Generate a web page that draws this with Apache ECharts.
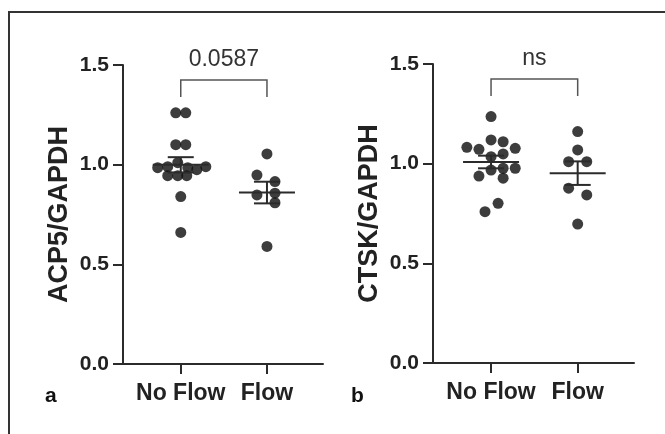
<!DOCTYPE html>
<html><head><meta charset="utf-8">
<script src="https://cdn.jsdelivr.net/npm/echarts@6/dist/echarts.min.js"></script>
<style>html,body{margin:0;padding:0;background:#fff}#c{width:665px;height:434px}</style>
</head><body><div id="c"></div>
<script>
// ---- data ----
const categories = ['No Flow', 'Flow'];
const yTicks = [0, 0.5, 1.0, 1.5];
// Panel a: ACP5/GAPDH
const acp5NoFlow = [1.26, 1.26, 1.10, 1.10, 0.985, 0.99, 1.01, 0.985, 0.975, 0.99, 0.945, 0.945, 0.945, 0.84, 0.66];
const acp5NoFlowJitter = [-5, 5, -5, 5, -23, -13, -3, 7, 16, 25, -13, -3, 6, 0, 0];
const acp5Flow = [1.054, 0.948, 0.915, 0.848, 0.857, 0.809, 0.59];
const acp5FlowJitter = [0, -10, 8, -10, 8, 8, 0];
// Panel b: CTSK/GAPDH
const ctskNoFlow = [1.236, 1.119, 1.110, 1.082, 1.072, 1.077, 1.035, 1.049, 0.977, 0.977, 0.968, 0.938, 0.927, 0.801, 0.759];
const ctskNoFlowJitter = [0, 0, 12, -24, -12, 24, 0, 12, 12, 24, 0, -12, 12, 7, -6];
const ctskFlow = [1.161, 1.069, 1.010, 1.010, 0.877, 0.843, 0.697];
const ctskFlowJitter = [0, 0, -9, 9, -9, 9, 0];
// significance annotations
const sigLabels = ['0.0587', 'ns'];
const bracketTop = 1.425;
const bracketLeg = 1.34;

// ---- helpers ----
const PX_PER_CAT = 86; // jitter values are in pixels of one category step
function pts(vals, jit, ci) {
  return vals.map((v, i) => [ci + jit[i] / PX_PER_CAT, v]);
}
function meanSem(vals) {
  const n = vals.length;
  const m = vals.reduce((a, b) => a + b, 0) / n;
  const sd = Math.sqrt(vals.reduce((a, b) => a + (b - m) * (b - m), 0) / (n - 1));
  return [m, sd / Math.sqrt(n)];
}
const INK = '#2b2b2b';
const FONT = 'Liberation Sans, Arial, sans-serif';

function errSeries(gi, groups) {
  return {
    type: 'custom', xAxisIndex: gi, yAxisIndex: gi, z: 5,
    data: groups.map((vals, i) => { const ms = meanSem(vals); return [i + 1, ms[0], ms[1]]; }),
    renderItem: function (params, api) {
      const x = api.value(0), m = api.value(1), s = api.value(2);
      const c = api.coord([x, m]), hi = api.coord([x, m + s]), lo = api.coord([x, m - s]);
      const st = { stroke: INK, lineWidth: 2 };
      return { type: 'group', children: [
        { type: 'line', shape: { x1: c[0] - 28, y1: c[1], x2: c[0] + 28, y2: c[1] }, style: st },
        { type: 'line', shape: { x1: c[0], y1: hi[1], x2: c[0], y2: lo[1] }, style: st },
        { type: 'line', shape: { x1: c[0] - 13, y1: hi[1], x2: c[0] + 13, y2: hi[1] }, style: st },
        { type: 'line', shape: { x1: c[0] - 13, y1: lo[1], x2: c[0] + 13, y2: lo[1] }, style: st }
      ]};
    }
  };
}
function bracketSeries(gi, label) {
  return {
    type: 'custom', xAxisIndex: gi, yAxisIndex: gi, z: 5,
    data: [[1, 2, bracketTop, bracketLeg]],
    renderItem: function (params, api) {
      const a = api.coord([api.value(0), api.value(2)]);
      const b = api.coord([api.value(1), api.value(2)]);
      const l = api.coord([api.value(0), api.value(3)]);
      const st = { stroke: '#555', lineWidth: 1.5, fill: null };
      return { type: 'group', children: [
        { type: 'polyline', shape: { points: [[a[0], l[1]], a, b, [b[0], l[1]]] }, style: st },
        { type: 'text', x: (a[0] + b[0]) / 2, y: a[1] - 9,
          style: { text: label, fill: '#333', font: 'normal 23px ' + FONT, align: 'center', verticalAlign: 'bottom' } }
      ]};
    }
  };
}
function scatter(gi, data) {
  return { type: 'scatter', xAxisIndex: gi, yAxisIndex: gi, data: data, symbolSize: 11,
    itemStyle: { color: '#0d0d0d' }, z: 3 };
}
const axisLineStyle = { show: true, lineStyle: { color: INK, width: 2 } };
function xAx(gi) {
  return { type: 'value', gridIndex: gi, min: 0.33, max: 2.65,
    axisLine: axisLineStyle, splitLine: { show: false },
    axisTick: { show: true, length: 10, lineStyle: { color: INK, width: 2 }, customValues: [1, 2] },
    axisLabel: { customValues: [1, 2], formatter: v => categories[Math.round(v) - 1] || '',
      color: '#222', fontWeight: 'bold', fontSize: 23, fontFamily: FONT, margin: 18 } };
}
function yAx(gi, name) {
  return { type: 'value', gridIndex: gi, min: 0, max: 1.5, interval: 0.5,
    name: name, nameLocation: 'middle', nameGap: 50,
    nameTextStyle: { color: '#222', fontWeight: 'bold', fontSize: 27, fontFamily: FONT },
    axisLine: axisLineStyle, splitLine: { show: false },
    axisTick: { show: true, length: 10, lineStyle: { color: INK, width: 2 } },
    axisLabel: { formatter: v => yTicks.includes(v) ? v.toFixed(1) : '', color: '#222', fontWeight: 'bold', fontSize: 21, fontFamily: FONT, margin: 14 } };
}

const chart = echarts.init(document.getElementById('c'), null, { renderer: 'canvas' });
chart.setOption({
  animation: false,
  backgroundColor: '#fff',
  grid: [
    { left: 123, top: 65, width: 200, height: 299 },
    { left: 433, top: 64, width: 201, height: 299 }
  ],
  xAxis: [xAx(0), xAx(1)],
  yAxis: [yAx(0, 'ACP5/GAPDH'), yAx(1, 'CTSK/GAPDH')],
  graphic: [
    { type: 'polyline', shape: { points: [[9, 434], [9, 12], [665, 12]] }, style: { stroke: '#333', lineWidth: 2, fill: null } },
    { type: 'text', left: 45, top: 386, style: { text: 'a', font: 'bold 21px ' + FONT, fill: '#111' } },
    { type: 'text', left: 351, top: 386, style: { text: 'b', font: 'bold 21px ' + FONT, fill: '#111' } }
  ],
  series: [
    scatter(0, pts(acp5NoFlow, acp5NoFlowJitter, 1).concat(pts(acp5Flow, acp5FlowJitter, 2))),
    errSeries(0, [acp5NoFlow, acp5Flow]),
    bracketSeries(0, sigLabels[0]),
    scatter(1, pts(ctskNoFlow, ctskNoFlowJitter, 1).concat(pts(ctskFlow, ctskFlowJitter, 2))),
    errSeries(1, [ctskNoFlow, ctskFlow]),
    bracketSeries(1, sigLabels[1])
  ]
});
</script></body></html>
